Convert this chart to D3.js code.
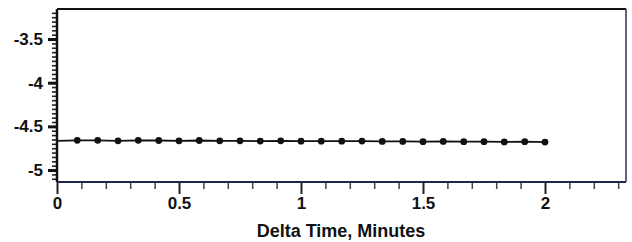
<!DOCTYPE html>
<html>
<head>
<meta charset="utf-8">
<script src="https://cdn.jsdelivr.net/npm/d3@7"></script>
<style>
  html, body { margin: 0; padding: 0; background: #fff; }
  svg { display: block; }
</style>
</head>
<body>
<div id="chart"></div>
<script>
// ---- data ----
const times = [0, 0.083, 0.167, 0.25, 0.333, 0.417, 0.5, 0.583, 0.667, 0.75, 0.833, 0.917,
  1, 1.083, 1.167, 1.25, 1.333, 1.417, 1.5, 1.583, 1.667, 1.75, 1.833, 1.917, 2];
const values = [-4.665, -4.660, -4.660, -4.665, -4.660, -4.662, -4.665, -4.662, -4.665, -4.665,
  -4.668, -4.665, -4.670, -4.670, -4.670, -4.668, -4.672, -4.672, -4.675, -4.672,
  -4.675, -4.675, -4.678, -4.675, -4.680];
const xTicks = [0, 0.5, 1, 1.5, 2];
const yTicks = [-3.5, -4, -4.5, -5];
const xLabel = 'Delta Time, Minutes';

const W = 632, H = 242;
const margin = { top: 9, right: 6, bottom: 60, left: 57 };
const w = W - margin.left - margin.right;
const h = H - margin.top - margin.bottom;

const svg = d3.select('#chart').append('svg').attr('width', W).attr('height', H);
const g = svg.append('g').attr('transform', `translate(${margin.left},${margin.top})`);

const x = d3.scaleLinear().domain([0, 2.332]).range([0, w]);
const y = d3.scaleLinear().domain([-5.137, -3.156]).range([h, 0]);

const font = '"Liberation Sans", Arial, sans-serif';

// minor ticks
const xMinor = d3.range(0, 2.31, 0.1).filter(v => !xTicks.some(t => Math.abs(t - v) < 1e-6));
const yMinor = d3.range(-5.1, -3.16, 0.05).filter(v => !yTicks.some(t => Math.abs(t - v) < 1e-6));

g.append('g')
  .attr('transform', `translate(0,${h})`)
  .call(d3.axisBottom(x).tickValues(xMinor).tickSize(7).tickFormat(''))
  .call(s => s.select('.domain').remove())
  .selectAll('line').attr('stroke', '#444').attr('stroke-width', 1.5);

g.append('g')
  .call(d3.axisLeft(y).tickValues(yMinor).tickSize(5).tickFormat(''))
  .call(s => s.select('.domain').remove())
  .selectAll('line').attr('stroke', '#222').attr('stroke-width', 1.6);

// major ticks + labels
const xAxis = g.append('g')
  .attr('transform', `translate(0,${h})`)
  .call(d3.axisBottom(x).tickValues(xTicks).tickSize(12).tickPadding(3)
    .tickFormat(d => String(d)));
xAxis.select('.domain').remove();
xAxis.selectAll('line').attr('stroke', '#222').attr('stroke-width', 2);
xAxis.selectAll('text').attr('font-family', font).attr('font-weight', 'bold')
  .attr('font-size', 17).attr('fill', '#111');

const yAxis = g.append('g')
  .call(d3.axisLeft(y).tickValues(yTicks).tickSize(9).tickPadding(5)
    .tickFormat(d => String(d)));
yAxis.select('.domain').remove();
yAxis.selectAll('line').attr('stroke', '#111').attr('stroke-width', 3);
yAxis.selectAll('text').attr('font-family', font).attr('font-weight', 'bold')
  .attr('font-size', 17).attr('fill', '#111');

// frame
g.append('line').attr('x1', 0).attr('x2', w).attr('y1', 0).attr('y2', 0)
  .attr('stroke', '#111').attr('stroke-width', 2);
g.append('line').attr('x1', w).attr('x2', w).attr('y1', 0).attr('y2', h)
  .attr('stroke', '#2a3550').attr('stroke-width', 1.5);
g.append('line').attr('x1', 0).attr('x2', w).attr('y1', h).attr('y2', h)
  .attr('stroke', '#1c2b45').attr('stroke-width', 2);
g.append('line').attr('x1', 0).attr('x2', 0).attr('y1', 0).attr('y2', h)
  .attr('stroke', '#111').attr('stroke-width', 2.5);

// series
const line = d3.line().x((d, i) => x(times[i])).y(d => y(d));
g.append('path').datum(values)
  .attr('fill', 'none').attr('stroke', '#111').attr('stroke-width', 1.8)
  .attr('d', line);

g.selectAll('circle.pt').data(values.slice(1)).enter().append('circle')
  .attr('class', 'pt')
  .attr('cx', (d, i) => x(times[i + 1]))
  .attr('cy', d => y(d))
  .attr('r', 3.4)
  .attr('fill', '#111');

// axis title
svg.append('text')
  .attr('x', 341).attr('y', 237)
  .attr('text-anchor', 'middle')
  .attr('font-family', font).attr('font-weight', 'bold').attr('font-size', 18)
  .attr('fill', '#111')
  .text(xLabel);
</script>
</body>
</html>
